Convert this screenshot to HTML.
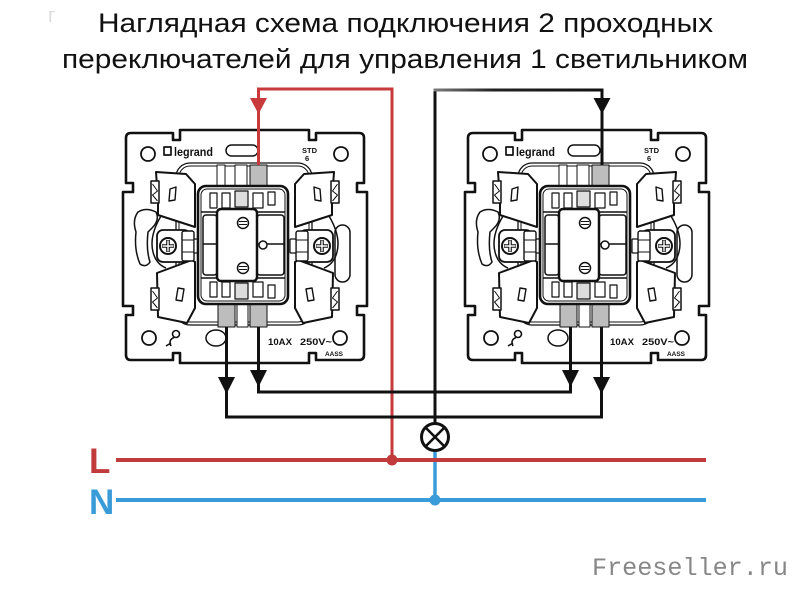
<!DOCTYPE html>
<html>
<head>
<meta charset="utf-8">
<style>
html,body{margin:0;padding:0;background:#fff;}
svg{display:block;}
</style>
</head>
<body>
<svg width="800" height="600" viewBox="0 0 800 600" xmlns="http://www.w3.org/2000/svg">
<defs>
  <linearGradient id="gw" x1="435" y1="0" x2="602" y2="0" gradientUnits="userSpaceOnUse">
    <stop offset="0" stop-color="#7a7a7a"/>
    <stop offset="0.35" stop-color="#222"/>
    <stop offset="1" stop-color="#111"/>
  </linearGradient>
  <g id="side" stroke="#111" fill="#fff" stroke-linejoin="round">
    <!-- holder outline curve -->
    <path d="M161,216 Q149,236 153,252 Q156,264 166,268" fill="none" stroke-width="1.5"/>
    <!-- upper flap -->
    <polygon points="156,172 186,174 195,184 195,227 158,215 158,200" stroke-width="2"/>
    <polygon points="170,189 176,187 175,200 169,201" stroke-width="1.4"/>
    <rect x="151" y="181" width="8" height="22" stroke-width="1.5"/>
    <path d="M152.5,184 L157.5,191 L152.5,195 L157.5,201" fill="none" stroke-width="1"/>
    <!-- lower flap -->
    <polygon points="157,273 192,260 195,262 195,308 187,323 158,317" stroke-width="2"/>
    <polygon points="178,288 184,289 182,301 176,300" stroke-width="1.4"/>
    <rect x="151" y="288" width="8" height="22" stroke-width="1.5"/>
    <path d="M152.5,291 L157.5,298 L152.5,302 L157.5,308" fill="none" stroke-width="1"/>
    <!-- screw holder -->
    <rect x="157" y="230" width="33" height="32" rx="6" stroke-width="1.8"/>
    <rect x="182" y="231" width="12" height="30" rx="2" stroke-width="1.4"/>
    <path d="M182,240 H194 M182,252 H194" stroke-width="1" fill="none"/>
    <rect x="194" y="239" width="6" height="14" rx="1" stroke-width="1.2"/>
    <circle cx="168" cy="246" r="8" stroke-width="2"/>
    <path d="M162,246 H174 M168,240 V252" stroke-width="3.6" fill="none"/>
    <path d="M162.5,246 H173.5 M168,240.5 V251.5" stroke="#fff" stroke-width="1.4" fill="none"/>
  </g>
  <g id="sw" stroke="#111" fill="#fff" stroke-linejoin="round">
    <!-- plate -->
    <path d="M131,133 H173 V140 H180 V130 H309 V140 H316 V133 H359 Q364,133 364,138 V183 H357 V192 H367 V306 H357 V315 H364 V355 Q364,360 359,360 H316 V353 H309 V363 H180 V353 H173 V360 H131 Q126,360 126,355 V315 H133 V306 H123 V192 H133 V183 H126 V138 Q126,133 131,133 Z" stroke-width="2.6"/>
    <!-- holes -->
    <circle cx="148" cy="154" r="7" stroke-width="1.8"/>
    <circle cx="341" cy="154" r="7" stroke-width="1.8"/>
    <circle cx="149" cy="338" r="7" stroke-width="1.8"/>
    <circle cx="340" cy="338" r="7" stroke-width="1.8"/>
    <!-- slots / blobs -->
    <rect x="226" y="145" width="32" height="11" rx="5.5" stroke-width="1.5"/>
    <ellipse cx="216" cy="338" rx="10" ry="8" stroke-width="1.5"/>
    <path d="M138,212 Q146,207 156,212 Q160,220 152,228 L148,232 Q146,250 150,262 Q146,268 140,264 Q134,250 136,232 Q132,220 138,212 Z" stroke-width="1.5"/>
    <rect x="335" y="225" width="15" height="57" rx="7.5" stroke-width="1.5"/>
    <!-- inner frame -->
    <rect x="176" y="163" width="136" height="162" rx="14" fill="none" stroke-width="1.3"/>
    <rect x="179" y="166" width="130" height="156" rx="11" fill="none" stroke-width="1"/>
    <!-- contact strips -->
    <rect x="217" y="165" width="8" height="22" stroke-width="1"/>
    <rect x="235" y="165" width="12" height="22" stroke-width="1"/>
    <rect x="250" y="165" width="17" height="22" fill="#bdbdbd" stroke-width="1"/>
    <rect x="218" y="303" width="17" height="24" fill="#bdbdbd" stroke-width="1"/>
    <rect x="237" y="303" width="11" height="24" stroke-width="1"/>
    <rect x="250" y="303" width="17" height="24" fill="#bdbdbd" stroke-width="1"/>
    <!-- side assemblies -->
    <use href="#side"/>
    <use href="#side" transform="matrix(-1 0 0 1 490 0)"/>
    <!-- central block -->
    <rect x="198" y="186" width="90" height="118" rx="8" stroke-width="2.6"/>
    <rect x="201" y="189" width="84" height="112" rx="6" fill="none" stroke-width="1"/>
    <g stroke-width="1.2">
      <rect x="210" y="193" width="7" height="15"/>
      <rect x="222" y="193" width="8" height="15"/>
      <rect x="235" y="191" width="13" height="16" fill="#ddd"/>
      <rect x="253" y="193" width="10" height="15"/>
      <rect x="268" y="192" width="7" height="13"/>
      <rect x="210" y="282" width="7" height="15"/>
      <rect x="222" y="282" width="8" height="15"/>
      <rect x="235" y="283" width="13" height="16" fill="#ddd"/>
      <rect x="253" y="282" width="10" height="15"/>
      <rect x="268" y="285" width="7" height="13"/>
    </g>
    <path d="M201,212 H285 M201,278 H285 M203,244 H285" fill="none" stroke-width="1.4"/>
    <rect x="203" y="215" width="14" height="60" rx="3" fill="none" stroke-width="1.5"/>
    <rect x="257" y="215" width="27" height="60" rx="3" fill="none" stroke-width="1.5"/>
    <rect x="217" y="209" width="40" height="72" rx="4" stroke-width="2.5"/>
    <circle cx="243" cy="223" r="5.5" stroke-width="1.5"/>
    <path d="M239,221.5 H247 M239,224.5 H247" stroke-width="1.1"/>
    <circle cx="243" cy="268" r="5.5" stroke-width="1.5"/>
    <path d="M239,266.5 H247 M239,269.5 H247" stroke-width="1.1"/>
    <circle cx="263" cy="245" r="4" stroke-width="1.5"/>
    <!-- bottom-left symbol -->
    <circle cx="176" cy="334" r="3.5" stroke-width="1.6" fill="none"/>
    <path d="M174,337.5 Q168,340 171,346 M166,346 L171,343" fill="none" stroke-width="1.6"/>
    <!-- legrand icon -->
    <rect x="164" y="147" width="7" height="8" fill="none" stroke-width="1.7"/>
  </g>
</defs>

<rect width="800" height="600" fill="#fff"/>

<!-- Title -->
<text x="48" y="22" font-family="Liberation Sans, sans-serif" font-size="20" fill="#dcdcdc">г</text>
<text x="98" y="32" font-family="Liberation Sans, sans-serif" font-size="27" fill="#111" textLength="615" lengthAdjust="spacingAndGlyphs">Наглядная схема подключения 2 проходных</text>
<text x="62" y="68" font-family="Liberation Sans, sans-serif" font-size="27" fill="#111" textLength="686" lengthAdjust="spacingAndGlyphs">переключателей для управления 1 светильником</text>

<!-- Switches -->
<use href="#sw"/>
<use href="#sw" x="342"/>

<!-- Switch texts -->
<g font-family="Liberation Sans, sans-serif" font-weight="bold" fill="#111">
  <text x="174" y="156" font-size="12" textLength="39" lengthAdjust="spacingAndGlyphs">legrand</text>
  <text x="302" y="153" font-size="7.5">STD</text>
  <text x="305" y="161" font-size="7.5">6</text>
  <text x="268" y="345" font-size="9" textLength="24" lengthAdjust="spacingAndGlyphs">10AX</text>
  <text x="300" y="345" font-size="9" textLength="32" lengthAdjust="spacingAndGlyphs">250V~</text>
  <text x="325" y="356" font-size="6" textLength="18" lengthAdjust="spacingAndGlyphs">AASS</text>
  <text x="516" y="156" font-size="12" textLength="39" lengthAdjust="spacingAndGlyphs">legrand</text>
  <text x="644" y="153" font-size="7.5">STD</text>
  <text x="647" y="161" font-size="7.5">6</text>
  <text x="610" y="345" font-size="9" textLength="24" lengthAdjust="spacingAndGlyphs">10AX</text>
  <text x="642" y="345" font-size="9" textLength="32" lengthAdjust="spacingAndGlyphs">250V~</text>
  <text x="667" y="356" font-size="6" textLength="18" lengthAdjust="spacingAndGlyphs">AASS</text>
</g>

<!-- Wires -->
<g fill="none" stroke-width="3" stroke-linejoin="miter">
  <path d="M258.5,165 V89 H392 V460" stroke="#c83a3b"/>
  <path d="M435,423 V90" stroke="#111"/>
  <path d="M433.5,90 H602" stroke="url(#gw)"/>
  <path d="M602,88.5 V165" stroke="#111"/>
  <path d="M226.5,327 V417 H601.5 V327" stroke="#111"/>
  <path d="M258.5,327 V392 H570.5 V327" stroke="#111"/>
  <path d="M435,451 V500" stroke="#3a9bd9" stroke-width="3.5"/>
  <path d="M116,460 H706" stroke="#c23b3c" stroke-width="4"/>
  <path d="M116,500 H706" stroke="#3a9bd9" stroke-width="4"/>
</g>

<!-- Arrowheads -->
<polygon points="250,98 267,98 258.5,114" fill="#c83a3b"/>
<polygon points="593.5,98 610.5,98 602,114" fill="#111"/>
<polygon points="218,377 235,377 226.5,394" fill="#111"/>
<polygon points="250,370 267,370 258.5,387" fill="#111"/>
<polygon points="562,370 579,370 570.5,387" fill="#111"/>
<polygon points="593,377 610,377 601.5,394" fill="#111"/>

<!-- Lamp -->
<circle cx="435" cy="437" r="13.5" fill="#fff" stroke="#111" stroke-width="3"/>
<path d="M425.5,427.5 L444.5,446.5 M444.5,427.5 L425.5,446.5" stroke="#111" stroke-width="2.6"/>

<!-- junction dots -->
<circle cx="392" cy="460" r="5.5" fill="#c23b3c"/>
<circle cx="435" cy="500" r="5.5" fill="#3a9bd9"/>

<!-- L / N labels -->
<text x="89" y="473" font-family="Liberation Sans, sans-serif" font-weight="bold" font-size="35" fill="#c23b3c">L</text>
<text x="89" y="514" font-family="Liberation Sans, sans-serif" font-weight="bold" font-size="35" fill="#3a9bd9">N</text>

<!-- Watermark -->
<text x="592" y="575" font-family="Liberation Mono, monospace" font-size="25" fill="#878787" textLength="196" lengthAdjust="spacingAndGlyphs">Freeseller.ru</text>
</svg>
</body>
</html>
